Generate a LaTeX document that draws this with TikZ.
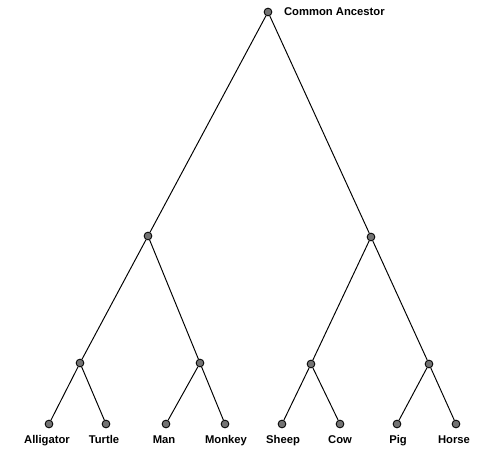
\documentclass[tikz,border=0pt]{standalone}
\usepackage{fontspec}
\setmainfont{Liberation Sans}
\begin{document}
\begin{tikzpicture}[x=0.02cm, y=-0.02cm,
    taxon/.style={circle, draw=black, fill=black!55, line width=0.5pt, inner sep=0pt, minimum size=4.4pt},
    animal/.style={font=\fontsize{6.4}{7}\selectfont\bfseries, inner sep=1pt, anchor=base},
    branch/.style={line width=0.55pt}]
    \useasboundingbox (0,0) rectangle (480,449);
    % Root and inner splits
    \node [taxon] (root) at (268,12) {};
    \node [taxon] (left) at (148,236) {};
    \node [taxon] (right) at (371,237) {};
    \node [taxon] (reptile) at (80,363) {};
    \node [taxon] (primate) at (200,363) {};
    \node [taxon] (bovid) at (311,364) {};
    \node [taxon] (other) at (429,364) {};
    % Leaves
    \node [taxon] (alligator) at (49,424) {};
    \node [taxon] (turtle) at (106,424) {};
    \node [taxon] (man) at (166,424) {};
    \node [taxon] (monkey) at (225,424) {};
    \node [taxon] (sheep) at (282,424) {};
    \node [taxon] (cow) at (340,424) {};
    \node [taxon] (pig) at (397,424) {};
    \node [taxon] (horse) at (456,424) {};
    % Labels
    \node [animal, anchor=base west] at (282,16) {Common Ancestor};
    \node [animal] at (47,443) {Alligator};
    \node [animal] at (104,443) {Turtle};
    \node [animal] at (164,443) {Man};
    \node [animal] at (226,443) {Monkey};
    \node [animal] at (283,443) {Sheep};
    \node [animal] at (340,443) {Cow};
    \node [animal] at (398,443) {Pig};
    \node [animal] at (454,443) {Horse};
    % Branches
    \draw[branch] (root) -- (left);
    \draw[branch] (root) -- (right);
    \draw[branch] (left) -- (reptile);
    \draw[branch] (left) -- (primate);
    \draw[branch] (right) -- (bovid);
    \draw[branch] (right) -- (other);
    \draw[branch] (reptile) -- (alligator);
    \draw[branch] (reptile) -- (turtle);
    \draw[branch] (primate) -- (man);
    \draw[branch] (primate) -- (monkey);
    \draw[branch] (bovid) -- (sheep);
    \draw[branch] (bovid) -- (cow);
    \draw[branch] (other) -- (pig);
    \draw[branch] (other) -- (horse);
\end{tikzpicture}
\end{document}
